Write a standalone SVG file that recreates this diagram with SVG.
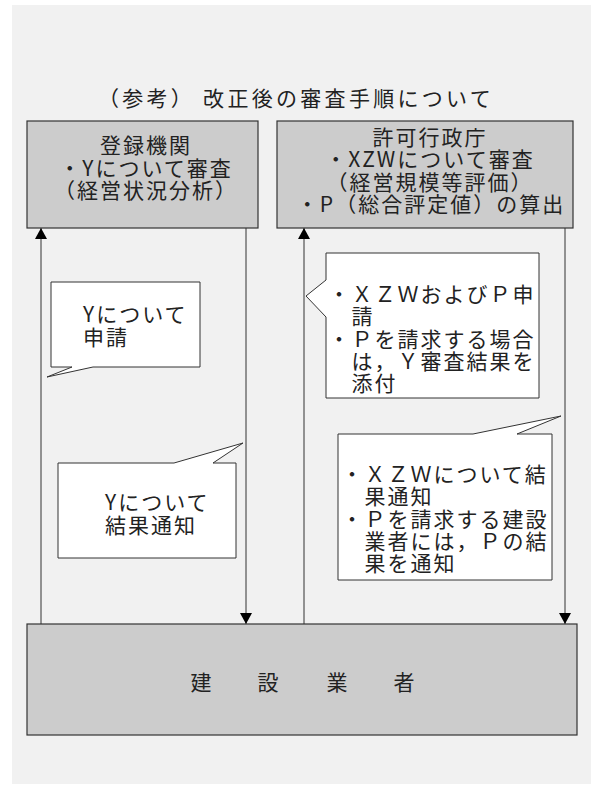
<svg xmlns="http://www.w3.org/2000/svg" width="591" height="785" viewBox="0 0 591 785">
<defs>
<marker id="ah" viewBox="0 0 11 12" refX="11" refY="6" markerWidth="11" markerHeight="12" markerUnits="userSpaceOnUse" orient="auto">
<path d="M0,0 L11,6 L0,12 Z" fill="#000"/>
</marker>
<style>
text{font-family:"Noto Sans CJK JP","Noto Sans",sans-serif;fill:#222;}
.t{font-size:21px;letter-spacing:2px;}
.box{fill:#cccccc;stroke:#333;stroke-width:1.2;}
.call{fill:#fff;stroke:#333;stroke-width:1;}
.ln{stroke:#333;stroke-width:1;fill:none;}
</style>
</defs>
<rect x="12" y="5" width="579" height="779" fill="#f1f1f1"/>
<text x="296" y="106" font-size="21" letter-spacing="3.3" text-anchor="middle">（参考） 改正後の審査手順について</text>

<g id="connectors">
<line class="ln" x1="41" y1="624" x2="41" y2="228" marker-end="url(#ah)"/>
<line class="ln" x1="246" y1="228" x2="246" y2="624" marker-end="url(#ah)"/>
<line class="ln" x1="304" y1="624" x2="304" y2="228" marker-end="url(#ah)"/>
<line class="ln" x1="565" y1="228" x2="565" y2="624" marker-end="url(#ah)"/>
</g>

<g id="registration">
<rect class="box" x="27" y="121" width="231" height="107"/>
<text class="t" text-anchor="middle"><tspan x="146" y="153">登録機関</tspan><tspan x="146" y="175.5">・Yについて審査</tspan><tspan x="146" y="198">（経営状況分析）</tspan></text>
</g>

<g id="authority">
<rect class="box" x="277" y="121" width="296" height="107"/>
<text class="t" text-anchor="middle"><tspan x="430" y="144.5">許可行政庁</tspan><tspan x="430" y="167">・XZWについて審査</tspan><tspan x="430" y="189.5">（経営規模等評価）</tspan><tspan x="431" y="212">・P（総合評定値）の算出</tspan></text>
</g>

<g id="contractor">
<rect class="box" x="27" y="624" width="550" height="111"/>
<text font-size="21" text-anchor="middle" x="201 268 337 404" y="690">建設業者</text>
</g>

<g id="callout-y-apply">
<path class="call" d="M51,282 H200 V367 H93 L47,377 L72,367 H51 Z"/>
<text class="t"><tspan x="83" y="322">Yについて</tspan><tspan x="83" y="345">申請</tspan></text>
</g>

<g id="callout-y-result">
<path class="call" d="M58,463 H174 L243,443 L213,463 H236 V558 H58 Z"/>
<text class="t"><tspan x="105" y="510">Yについて</tspan><tspan x="105" y="533">結果通知</tspan></text>
</g>

<g id="callout-xzw-apply">
<path class="call" d="M326,253 H539 V398 H326 V317 L306,296 L326,280 Z"/>
<text class="t"><tspan x="328.5" y="302">・ＸＺＷおよびＰ申</tspan><tspan x="351.5" y="324.3">請</tspan><tspan x="328.5" y="346.6">・Ｐを請求する場合</tspan><tspan x="351.5" y="368.9">は，Ｙ審査結果を</tspan><tspan x="351.5" y="391.2">添付</tspan></text>
</g>

<g id="callout-xzw-result">
<path class="call" d="M338,434 H473 L561,416 L517,434 H552 V580 H338 Z"/>
<text class="t"><tspan x="341.5" y="482">・ＸＺＷについて結</tspan><tspan x="364.5" y="504.3">果通知</tspan><tspan x="341.5" y="526.6">・Ｐを請求する建設</tspan><tspan x="364.5" y="548.9">業者には，Ｐの結</tspan><tspan x="364.5" y="571.2">果を通知</tspan></text>
</g>
</svg>
